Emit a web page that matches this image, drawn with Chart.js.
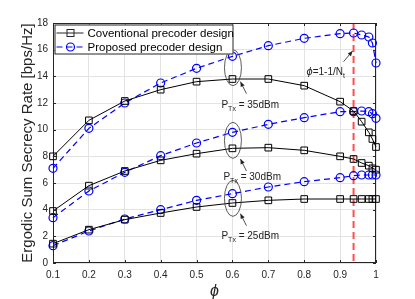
<!DOCTYPE html>
<html>
<head>
<meta charset="utf-8">
<script src="https://cdn.jsdelivr.net/npm/chart.js@4/dist/chart.umd.min.js"></script>
<style>
  html, body { margin: 0; padding: 0; background: #fff; }
  #wrap { width: 415px; height: 299px; }
</style>
</head>
<body>
<div id="wrap"><canvas id="chart" width="415" height="299"></canvas></div>
<script>
// phi values (x axis)
const phi = [0.1, 0.2, 0.3, 0.4, 0.5, 0.6, 0.7, 0.8, 0.9, 0.9375, 0.96, 0.98, 0.99, 1];

// conventional precoder design
const conv35 = [8.0, 10.7, 12.15, 13.0, 13.6, 13.8, 13.8, 13.3, 12.1, 11.4, 10.6, 9.8, 9.3, 8.7];
const conv30 = [3.9, 5.8, 6.9, 7.7, 8.2, 8.6, 8.65, 8.45, 8.0, 7.8, 7.5, 7.3, 7.1, 7.0];
const conv25 = [1.45, 2.5, 3.25, 3.75, 4.2, 4.5, 4.7, 4.8, 4.8, 4.8, 4.8, 4.8, 4.8, 4.8];

// proposed precoder design
const prop35 = [7.1, 10.1, 12.0, 13.5, 14.6, 15.5, 16.3, 16.85, 17.2, 17.25, 17.1, 16.95, 16.5, 15.0];
const prop30 = [3.4, 5.4, 6.8, 8.05, 9.0, 9.8, 10.4, 10.9, 11.35, 11.35, 11.4, 11.35, 11.2, 10.85];
const prop25 = [1.3, 2.4, 3.3, 4.0, 4.7, 5.2, 5.7, 6.1, 6.4, 6.55, 6.6, 6.6, 6.6, 6.6];

const xTicks = [0.1, 0.2, 0.3, 0.4, 0.5, 0.6, 0.7, 0.8, 0.9, 1];
const legendLabels = ['Coventional precoder design', 'Proposed precoder design'];
const phiLimit = 0.9375; // 1 - 1/Nt, Nt = 16

const FONT = 'Helvetica, "Liberation Sans", Arial, sans-serif';

function toPoints(ys) {
  return ys.map((y, i) => ({ x: phi[i], y: y }));
}

function convSet(ys) {
  return {
    data: toPoints(ys),
    clip: false,
    borderColor: '#000',
    borderWidth: 1,
    pointStyle: 'rect',
    pointRadius: 4.7,
    pointBorderColor: '#000',
    pointBackgroundColor: 'rgba(0,0,0,0)',
    pointBorderWidth: 1,
    tension: 0
  };
}

function propSet(ys) {
  return {
    data: toPoints(ys),
    clip: false,
    borderColor: '#0000ff',
    borderWidth: 1.2,
    borderDash: [6, 4],
    pointStyle: 'circle',
    pointRadius: 4,
    pointBorderColor: '#0000ff',
    pointBackgroundColor: 'rgba(0,0,0,0)',
    pointBorderWidth: 1.2,
    tension: 0
  };
}

// helpers for annotation drawing
function arrow(ctx, x1, y1, x2, y2) {
  ctx.save();
  ctx.strokeStyle = '#222';
  ctx.fillStyle = '#222';
  ctx.lineWidth = 0.8;
  ctx.beginPath();
  ctx.moveTo(x1, y1);
  ctx.lineTo(x2, y2);
  ctx.stroke();
  const a = Math.atan2(y2 - y1, x2 - x1);
  const L = 5, W = 2.2;
  ctx.beginPath();
  ctx.moveTo(x2, y2);
  ctx.lineTo(x2 - L * Math.cos(a) + W * Math.sin(a), y2 - L * Math.sin(a) - W * Math.cos(a));
  ctx.lineTo(x2 - L * Math.cos(a) - W * Math.sin(a), y2 - L * Math.sin(a) + W * Math.cos(a));
  ctx.closePath();
  ctx.fill();
  ctx.restore();
}

function powerLabel(ctx, x, y, dbm) {
  ctx.save();
  ctx.fillStyle = '#222';
  ctx.textBaseline = 'alphabetic';
  ctx.textAlign = 'left';
  ctx.font = '10px ' + FONT;
  ctx.fillText('P', x, y);
  let w = ctx.measureText('P').width;
  ctx.font = '7px ' + FONT;
  ctx.fillText('Tx', x + w, y + 3);
  w += ctx.measureText('Tx').width;
  ctx.font = '10px ' + FONT;
  ctx.fillText(' = ' + dbm + 'dBm', x + w, y);
  ctx.restore();
}

const overlay = {
  id: 'overlay',
  beforeDatasetsDraw(chart) {
    const { ctx, chartArea: a, scales: { x } } = chart;
    // red dashed line at phi = 1 - 1/Nt
    const px = x.getPixelForValue(phiLimit);
    ctx.save();
    ctx.strokeStyle = '#ff4d4d';
    ctx.lineWidth = 2;
    ctx.setLineDash([7, 4]);
    ctx.beginPath();
    ctx.moveTo(px, a.top);
    ctx.lineTo(px, a.bottom);
    ctx.stroke();
    ctx.restore();
    // axes box under the data
    ctx.save();
    ctx.strokeStyle = '#262626';
    ctx.lineWidth = 1;
    ctx.strokeRect(a.left + 0.5, a.top + 0.5, a.right - a.left - 1, a.bottom - a.top - 1);
    ctx.restore();
  },
  afterDatasetsDraw(chart) {
    const { ctx, chartArea: a, scales: { x, y } } = chart;
    ctx.save();
    // inner ticks
    ctx.strokeStyle = '#262626';
    ctx.lineWidth = 1;
    ctx.beginPath();
    x.ticks.forEach(t => {
      const p = Math.round(x.getPixelForValue(t.value)) + 0.5;
      ctx.moveTo(p, a.bottom); ctx.lineTo(p, a.bottom - 3);
      ctx.moveTo(p, a.top); ctx.lineTo(p, a.top + 3);
    });
    y.ticks.forEach(t => {
      const p = Math.round(y.getPixelForValue(t.value)) + 0.5;
      ctx.moveTo(a.left, p); ctx.lineTo(a.left + 3, p);
      ctx.moveTo(a.right, p); ctx.lineTo(a.right - 3, p);
    });
    ctx.stroke();

    // ellipses around the pairs at phi = 0.6
    const ex = x.getPixelForValue(0.6);
    ctx.strokeStyle = '#333';
    ctx.lineWidth = 0.8;
    [[15.5, 13.8], [9.8, 8.6], [5.2, 4.5]].forEach(([hi, lo]) => {
      const yc = (y.getPixelForValue(hi) + y.getPixelForValue(lo)) / 2;
      ctx.beginPath();
      ctx.ellipse(ex + 0.5, yc, 8.5, 18, 0, 0, Math.PI * 2);
      ctx.stroke();
    });

    // arrows and labels
    arrow(ctx, ex + 14, y.getPixelForValue(12.7), ex + 8, y.getPixelForValue(13.6));
    powerLabel(ctx, ex - 11, y.getPixelForValue(11.6), 35);
    arrow(ctx, ex + 14, y.getPixelForValue(6.9), ex + 8, y.getPixelForValue(7.8));
    powerLabel(ctx, ex - 9, y.getPixelForValue(6.2), 30);
    arrow(ctx, ex + 14, y.getPixelForValue(2.8), ex + 8, y.getPixelForValue(3.7));
    powerLabel(ctx, ex - 11, y.getPixelForValue(1.8), 25);

    // phi = 1 - 1/Nt label
    const lx = x.getPixelForValue(phiLimit);
    arrow(ctx, lx - 10, y.getPixelForValue(15.1), lx - 1, y.getPixelForValue(15.9));
    ctx.fillStyle = '#222';
    ctx.textBaseline = 'alphabetic';
    ctx.font = 'italic 11px ' + FONT;
    let tx = lx - 47;
    const ty = y.getPixelForValue(14.1);
    ctx.fillText('\u03d5', tx, ty);
    tx += ctx.measureText('\u03d5').width;
    ctx.font = '10px ' + FONT;
    ctx.fillText('=1-1/N', tx, ty);
    tx += ctx.measureText('=1-1/N').width;
    ctx.font = '7px ' + FONT;
    ctx.fillText('t', tx, ty + 3);

    // legend box
    const bx = a.left + 1.5, by = a.top + 1.5, bw = 179, bh = 30;
    ctx.fillStyle = '#fff';
    ctx.fillRect(bx, by, bw, bh);
    ctx.strokeStyle = '#262626';
    ctx.lineWidth = 1;
    ctx.strokeRect(bx + 0.5, by + 0.5, bw - 1, bh - 1);
    const rows = [by + 8.5, by + 22.5];
    // conventional sample
    ctx.beginPath();
    ctx.moveTo(bx + 2, rows[0]); ctx.lineTo(bx + 29, rows[0]);
    ctx.stroke();
    ctx.strokeRect(bx + 12.5, rows[0] - 3.5, 7, 7);
    // proposed sample
    ctx.strokeStyle = '#0000ff';
    ctx.lineWidth = 1.2;
    ctx.setLineDash([6, 4]);
    ctx.beginPath();
    ctx.moveTo(bx + 2, rows[1]); ctx.lineTo(bx + 29, rows[1]);
    ctx.stroke();
    ctx.setLineDash([]);
    ctx.beginPath();
    ctx.arc(bx + 16, rows[1], 4, 0, Math.PI * 2);
    ctx.stroke();
    ctx.fillStyle = '#000';
    ctx.font = '11.5px ' + FONT;
    ctx.textBaseline = 'middle';
    ctx.fillText(legendLabels[0], bx + 33, rows[0] + 0.5);
    ctx.fillText(legendLabels[1], bx + 33, rows[1] + 0.5);
    ctx.restore();
  }
};

new Chart(document.getElementById('chart'), {
  type: 'line',
  data: {
    datasets: [
      convSet(conv35), propSet(prop35),
      convSet(conv30), propSet(prop30),
      convSet(conv25), propSet(prop25)
    ]
  },
  options: {
    responsive: false,
    animation: false,
    layout: { padding: { left: 0, top: 23, right: 39, bottom: 0 } },
    plugins: { legend: { display: false }, tooltip: { enabled: false } },
    scales: {
      x: {
        type: 'linear',
        min: 0.1,
        max: 1,
        afterFit: s => { s.height = 36; },
        afterBuildTicks: s => {
          s.ticks = xTicks.map(v => ({ value: v }));
        },
        ticks: {
          padding: 6,
          color: '#262626',
          font: { family: FONT, size: 10 },
          maxRotation: 0,
          callback: v => (v === 1 ? '1' : v.toFixed(1))
        },
        grid: { color: '#e3e3e3', drawTicks: false },
        border: { display: false },
        title: {
          display: true,
          text: '\u03d5',
          color: '#262626',
          font: { family: FONT, size: 16, style: 'italic', lineHeight: 1 },
          padding: { top: 0, bottom: -1 }
        }
      },
      y: {
        min: 0,
        max: 18,
        afterFit: s => { s.width = 53; },
        ticks: {
          stepSize: 2,
          padding: 5,
          color: '#262626',
          font: { family: FONT, size: 10 }
        },
        grid: { color: '#e3e3e3', drawTicks: false },
        border: { display: false },
        title: {
          display: true,
          text: 'Ergodic Sum Secrecy Rate [bps/Hz]',
          color: '#262626',
          font: { family: FONT, size: 15, lineHeight: 1.2 },
          padding: { top: 19, bottom: 0 }
        }
      }
    }
  },
  plugins: [overlay]
});
</script>
</body>
</html>
